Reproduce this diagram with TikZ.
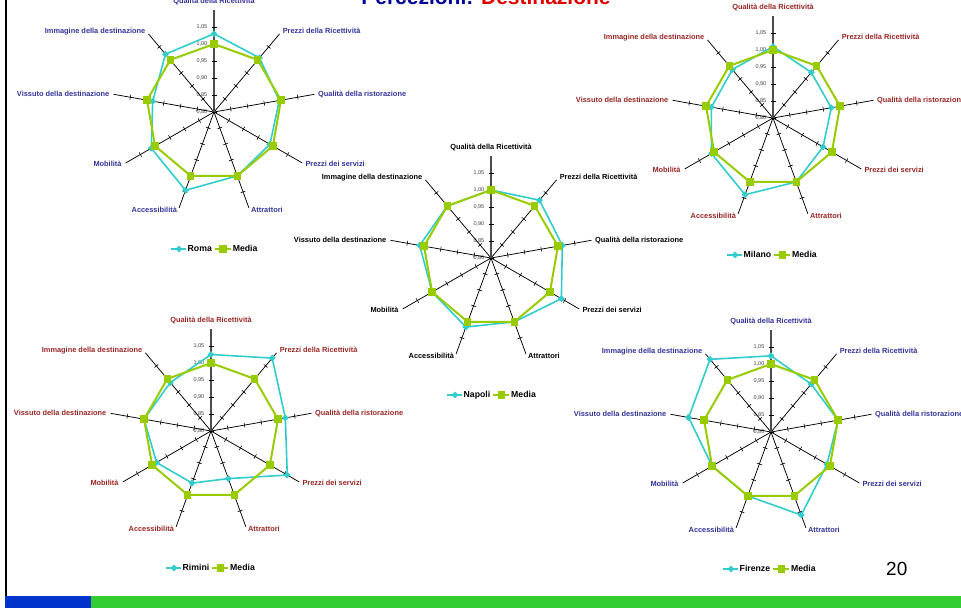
\documentclass[tikz,border=0pt]{standalone}
\usepackage{fontspec}
\setmainfont{Liberation Sans}
\usetikzlibrary{shapes.geometric}

\definecolor{serie}{HTML}{33CCCC}
\definecolor{media}{HTML}{99CC00}
\definecolor{lblblue}{HTML}{333399}
\definecolor{lblred}{HTML}{992626}
\definecolor{lblblack}{HTML}{000000}
\definecolor{titleblue}{HTML}{000099}
\definecolor{titlered}{HTML}{E00000}
\definecolor{barblue}{HTML}{0033CC}
\definecolor{bargreen}{HTML}{33CC33}

\tikzset{
  axisline/.style={black, line width=0.75pt},
  mainaxis/.style={black!70, line width=1.3pt},
  tickmark/.style={black, line width=0.6pt},
  ticklabel/.style={font=\fontsize{5.5}{6}\selectfont, text=black!75, anchor=east, inner sep=0pt},
  axislabel/.style={font=\bfseries\fontsize{7.4}{8}\selectfont, inner sep=0pt, text height=5.4pt, text depth=1.4pt},
  serieline/.style={serie, line width=1.6pt, line join=round},
  medialine/.style={media, line width=2pt, line join=round},
  seriemark/.style={diamond, fill=serie, draw=none, inner sep=0pt, minimum width=7pt, minimum height=7pt},
  mediamark/.style={rectangle, fill=media, draw=none, inner sep=0pt, minimum size=7.5pt},
  legendtext/.style={font=\bfseries\fontsize{8.7}{9}\selectfont, inner sep=0pt, anchor=west, text height=6.3pt, text depth=1.8pt},
}

% #1,#2 centre of the radar; #3 colour of the category names; #4 city;
% #5 the nine values of the city; #6 left end of the legend, relative to the centre
\newcommand\radarpanel[6]{%
  \begin{scope}[shift={(#1,#2)}]
    % scale of the value axis
    \foreach \k/\t in {0/{0,80},1/{0,85},2/{0,90},3/{0,95},4/{1,00},5/{1,05}}{
      \node[ticklabel] (#4-t\k) at (-6.5,{-17*\k}) {\t};
    }
    % spokes with their tick marks
    \foreach \i in {1,...,8}{
      \pgfmathsetmacro\ang{90-40*\i}
      \draw[axisline] (0,0) -- ({102*cos(\ang)},{-102*sin(\ang)});
      \foreach \k in {1,...,5}{
        \draw[tickmark] ({17*\k*cos(\ang)+2.5*sin(\ang)},{-17*\k*sin(\ang)+2.5*cos(\ang)})
          -- ({17*\k*cos(\ang)-2.5*sin(\ang)},{-17*\k*sin(\ang)-2.5*cos(\ang)});
      }
    }
    \draw[mainaxis] (0,0) -- (0,-102);
    \foreach \k in {0,...,5}{\draw[tickmark] (-2.5,{-17*\k}) -- (2.5,{-17*\k});}
    % category names
    \node[axislabel, text=#3] (#4-l0) at (0,-110.5) {Qualità della Ricettività};
    \foreach \i/\anc/\dx/\dy/\txt in {%
        1/west/3/-2/{Prezzi della Ricettività},
        2/west/3.5/0/{Qualità della ristorazione},
        3/west/3/1.5/{Prezzi dei servizi},
        4/west/2/3/{Attrattori},
        5/east/-2/3/{Accessibilità},
        6/east/-4/1.5/{Mobilità},
        7/east/-4/0/{Vissuto della destinazione},
        8/east/-3/-2/{Immagine della destinazione}}{
      \node[axislabel, text=#3, anchor=\anc] (#4-l\i)
        at ({102*cos(90-40*\i)+(\dx)},{-102*sin(90-40*\i)+(\dy)}) {\txt};
    }
    % data points: city and average
    \foreach \v [count=\i from 0] in {#5}{
      \coordinate (#4-s\i) at ({(\v-0.8)*340*cos(90-40*\i)},{-(\v-0.8)*340*sin(90-40*\i)});
      \coordinate (#4-a\i) at ({68*cos(90-40*\i)},{-68*sin(90-40*\i)});
    }
    \draw[serieline] (#4-s0) -- (#4-s1) -- (#4-s2) -- (#4-s3) -- (#4-s4)
      -- (#4-s5) -- (#4-s6) -- (#4-s7) -- (#4-s8) -- cycle;
    \foreach \i in {0,...,8}{\node[seriemark] (#4-ds\i) at (#4-s\i) {};}
    \draw[medialine] (#4-a0) -- (#4-a1) -- (#4-a2) -- (#4-a3) -- (#4-a4)
      -- (#4-a5) -- (#4-a6) -- (#4-a7) -- (#4-a8) -- cycle;
    \foreach \i in {0,...,8}{\node[mediamark] (#4-sq\i) at (#4-a\i) {};}
    % legend
    \coordinate (#4-k0) at (#6,137);
    \draw[serieline, line width=1.8pt] (#4-k0) -- ++(15,0);
    \node[seriemark] (#4-kd) at ([xshift=8pt]#4-k0) {};
    \node[legendtext] (#4-kn) at ([xshift=16.5pt]#4-k0) {#4};
    \coordinate (#4-k1) at ([xshift=3pt]#4-kn.east);
    \draw[medialine] (#4-k1) -- ++(16,0);
    \node[mediamark] (#4-ks) at ([xshift=8pt]#4-k1) {};
    \node[legendtext] (#4-km) at ([xshift=17.5pt]#4-k1) {Media};
  \end{scope}
}

\begin{document}
\begin{tikzpicture}[x=1pt, y=-1pt]
  \useasboundingbox (0,0) rectangle (961,608);
  \clip (0,0) rectangle (961,608);
  \fill[white] (0,0) rectangle (961,608);

  % slide frame
  \draw[black, line width=2pt] (6,0) -- (6,596);
  \fill[barblue] (5,596) rectangle (91,608);
  \fill[bargreen] (91,596) rectangle (961,608);

  \node[anchor=base, inner sep=0pt, font=\bfseries\fontsize{21}{24}\selectfont] (titolo) at (486,4.5)
    {\textcolor{titleblue}{Percezioni:} \textcolor{titlered}{Destinazione}};

  \radarpanel{214}{112}{lblblue}{Roma}{1.03,1.008,0.995,0.99,1.00,1.045,1.013,0.983,1.022}{-43}
  \radarpanel{773}{118}{lblred}{Milano}{1.01,0.975,0.974,0.97,1.00,1.04,1.009,0.984,0.986}{-46}
  \radarpanel{491}{258}{lblblack}{Napoli}{1.00,1.022,1.013,1.039,1.00,1.016,1.00,1.013,1.00}{-44}
  \radarpanel{211}{431}{lblred}{Rimini}{1.025,1.08,1.022,1.059,0.949,0.963,0.985,1.00,0.986}{-45}
  \radarpanel{771}{432}{lblblue}{Firenze}{1.024,0.984,1.00,0.99,1.06,1.00,1.00,1.046,1.079}{-48}

  \node[anchor=west, inner sep=0pt, font=\fontsize{19}{20}\selectfont, text height=13.6pt, text depth=0pt] (pagina) at (886,568.5) {20};
\end{tikzpicture}
\end{document}
